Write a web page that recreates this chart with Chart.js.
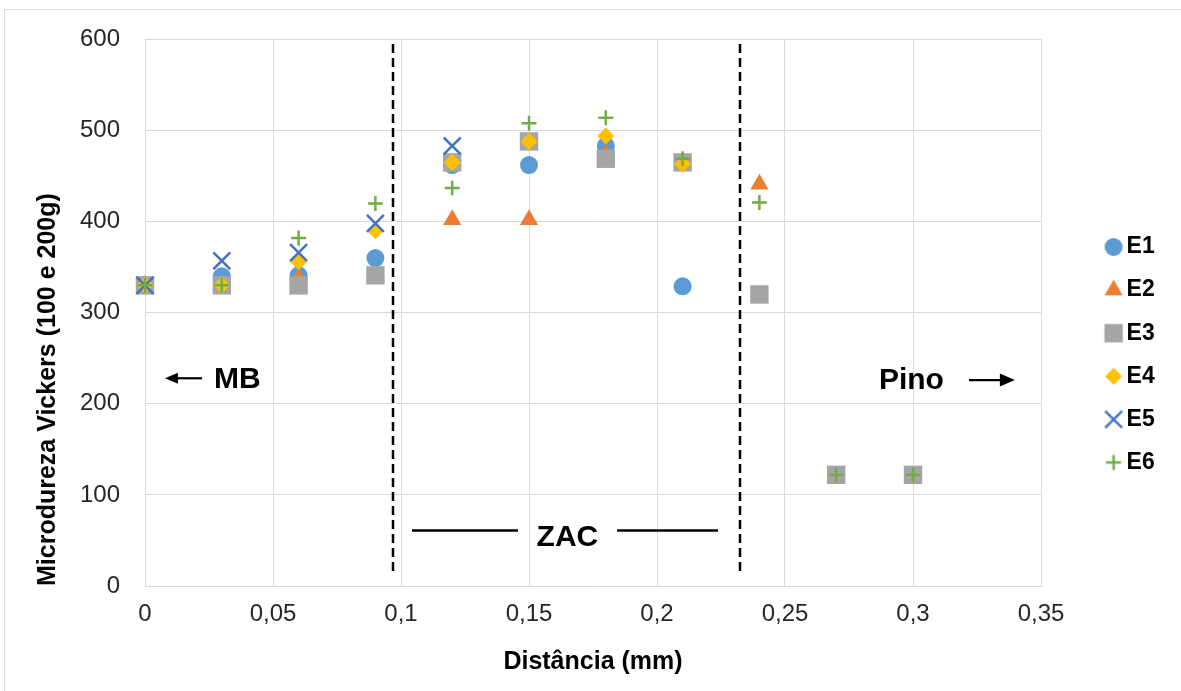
<!DOCTYPE html>
<html>
<head>
<meta charset="utf-8">
<script src="https://cdn.jsdelivr.net/npm/chart.js@4.4.1/dist/chart.umd.min.js"></script>
<style>
html,body{margin:0;padding:0;background:#fff;}
#wrap{position:relative;width:1181px;height:691px;}
canvas{display:block;}
</style>
</head>
<body>
<div id="wrap"><canvas id="c" width="1181" height="691"></canvas></div>
<script>
// ---- data ----
const distances = [0, 0.03, 0.06, 0.09, 0.12, 0.15, 0.18, 0.21, 0.24, 0.27, 0.30];
const E1 = [330, 340, 341, 360, 462, 462, 483, 329, null, null, null];
const E2 = [330, 330, 338, 341, 402, 402, 474, 463, 441, null, null];
const E3 = [330, 330, 330, 341, 465, 488, 469, 465, 320, 122, 122];
const E4 = [330, 330, 356, 390, 465, 488, 494, 463, null, null, null];
const E5 = [330, 357, 366, 398, 483, null, null, null, null, null, null];
const E6 = [330, 330, 382, 420, 437, 508, 514, 469, 421, 122, 122];
const seriesNames = ['E1', 'E2', 'E3', 'E4', 'E5', 'E6'];
const seriesValues = [E1, E2, E3, E4, E5, E6];
const xTickLabels = ['0', '0,05', '0,1', '0,15', '0,2', '0,25', '0,3', '0,35'];
const yTickLabels = ['0', '100', '200', '300', '400', '500', '600'];
const xTitle = 'Distância (mm)';
const yTitle = 'Microdureza Vickers (100 e 200g)';
const zoneBoundaries = [0.097, 0.2325];
const zoneNames = ['MB', 'ZAC', 'Pino'];

// ---- styles ----
const seriesColors = ['#5B9BD5', '#ED7D31', '#A5A5A5', '#FFC000', '#4472C4', '#70AD47'];
const seriesStyles = ['circle', 'triangle', 'rect', 'rectRot', 'crossRot', 'cross'];
const seriesRadius = [9, 10.5, 13, 8.5, 12, 7.5];
const seriesLine = [0, 0, 0, 0, 2.5, 2.5];
const plotFont = "'Liberation Sans', Arial, Helvetica, sans-serif";
Chart.defaults.font.family = plotFont;

const legendLeft = 1092;
const legendTop = 215.4;

const datasets = seriesNames.map((name, i) => ({
  label: name,
  data: distances.map((d, k) => ({ x: d, y: seriesValues[i][k] })),
  pointStyle: seriesStyles[i],
  pointRadius: seriesRadius[i],
  pointHoverRadius: seriesRadius[i],
  backgroundColor: seriesColors[i],
  borderColor: seriesColors[i],
  pointBackgroundColor: seriesColors[i],
  pointBorderColor: seriesColors[i],
  pointBorderWidth: seriesLine[i],
  borderWidth: seriesLine[i],
  showLine: false,
  clip: false,
  order: seriesNames.length - 1 - i
}));

// legend marker images drawn with the library's own point renderer, same size as the plot marks
function legendMarker(i) {
  const size = 30;
  const cv = document.createElement('canvas');
  cv.width = size; cv.height = size;
  const c = cv.getContext('2d');
  c.fillStyle = seriesColors[i];
  c.strokeStyle = seriesColors[i];
  c.lineWidth = seriesLine[i];
  Chart.helpers.drawPoint(c, {
    pointStyle: seriesStyles[i], radius: seriesRadius[i], rotation: 0, borderWidth: seriesLine[i]
  }, size / 2, size / 2);
  return cv;
}
const hasHelpers = !!(Chart.helpers && Chart.helpers.drawPoint);

const framePlugin = {
  id: 'frame',
  beforeDraw(chart) {
    const ctx = chart.ctx;
    ctx.save();
    ctx.fillStyle = '#ffffff';
    ctx.fillRect(0, 0, chart.width, chart.height);
    ctx.strokeStyle = '#d9d9d9';
    ctx.lineWidth = 1;
    ctx.strokeRect(4.5, 9.5, chart.width + 20, chart.height + 20);
    ctx.restore();
  }
};

const legendPlacer = {
  id: 'legendPlacer',
  afterLayout(chart) {
    const lg = chart.legend;
    if (!lg) return;
    lg.left = legendLeft;
    lg.right = chart.width;
    lg.top = legendTop;
    lg.bottom = chart.height;
  }
};

function arrow(ctx, xTail, xTip, y, headLen, headHalf) {
  const dir = Math.sign(xTip - xTail);
  ctx.beginPath();
  ctx.moveTo(xTail, y);
  ctx.lineTo(xTip - dir * headLen * 0.8, y);
  ctx.stroke();
  ctx.beginPath();
  ctx.moveTo(xTip, y);
  ctx.lineTo(xTip - dir * headLen, y - headHalf);
  ctx.lineTo(xTip - dir * headLen, y + headHalf);
  ctx.closePath();
  ctx.fill();
}

const zonePlugin = {
  id: 'zones',
  afterDraw(chart) {
    const { ctx } = chart;
    const xs = chart.scales.x, ys = chart.scales.y;
    ctx.save();
    ctx.strokeStyle = '#000';
    ctx.lineWidth = 2.5;
    ctx.setLineDash([9, 5]);
    zoneBoundaries.forEach(b => {
      const px = Math.round(xs.getPixelForValue(b));
      ctx.beginPath();
      ctx.moveTo(px, ys.getPixelForValue(595));
      ctx.lineTo(px, ys.getPixelForValue(15));
      ctx.stroke();
    });
    ctx.setLineDash([]);
    ctx.fillStyle = '#000';
    ctx.font = 'bold 30px ' + plotFont;
    ctx.textBaseline = 'alphabetic';
    ctx.textAlign = 'left';
    ctx.fillText(zoneNames[0], xs.getPixelForValue(0.0270), ys.getPixelForValue(217.5));
    ctx.lineWidth = 2.2;
    arrow(ctx, xs.getPixelForValue(0.0223), xs.getPixelForValue(0.0078), ys.getPixelForValue(228), 13, 5.5);
    ctx.fillText(zoneNames[2], xs.getPixelForValue(0.2867), ys.getPixelForValue(215.7));
    arrow(ctx, xs.getPixelForValue(0.3219), xs.getPixelForValue(0.3398), ys.getPixelForValue(226), 15, 6.5);
    ctx.textAlign = 'center';
    ctx.fillText(zoneNames[1], xs.getPixelForValue(0.1650), ys.getPixelForValue(44));
    ctx.lineWidth = 2.5;
    const ly = Math.round(ys.getPixelForValue(61.3)) + 0.5;
    ctx.beginPath();
    ctx.moveTo(xs.getPixelForValue(0.1043), ly);
    ctx.lineTo(xs.getPixelForValue(0.1457), ly);
    ctx.moveTo(xs.getPixelForValue(0.1844), ly);
    ctx.lineTo(xs.getPixelForValue(0.2238), ly);
    ctx.stroke();
    ctx.restore();
  }
};

new Chart(document.getElementById('c'), {
  type: 'scatter',
  data: { datasets },
  plugins: [framePlugin, legendPlacer, zonePlugin],
  options: {
    responsive: false,
    animation: false,
    events: [],
    layout: { padding: { left: 0, top: 38, right: 80, bottom: 0 } },
    plugins: {
      tooltip: { enabled: false },
      legend: {
        position: 'right',
        align: 'start',
        maxWidth: 60,
        labels: {
          usePointStyle: true,
          boxWidth: 3,
          boxHeight: 13,
          padding: 20.1,
          color: '#000',
          font: { size: 23, weight: 'bold', family: plotFont },
          sort: (a, b) => a.datasetIndex - b.datasetIndex,
          generateLabels(chart) {
            const items = Chart.defaults.plugins.legend.labels.generateLabels(chart);
            if (hasHelpers) {
              items.forEach(it => { it.pointStyle = legendMarker(it.datasetIndex); });
            }
            return items;
          }
        }
      }
    },
    scales: {
      x: {
        type: 'linear',
        min: 0, max: 0.35,
        afterFit: s => { s.height = 105; },
        ticks: {
          stepSize: 0.05,
          padding: 14,
          color: '#262626',
          font: { size: 24, family: plotFont },
          maxRotation: 0,
          callback: (v, i) => xTickLabels[i]
        },
        grid: { color: '#d9d9d9', lineWidth: 1, drawTicks: false },
        border: { color: '#d9d9d9' },
        title: {
          display: true, text: xTitle, color: '#000',
          font: { size: 25, weight: 'bold', family: plotFont },
          padding: { top: 0, bottom: 14 }
        }
      },
      y: {
        type: 'linear',
        min: 0, max: 600,
        afterFit: s => { s.width = 145; },
        ticks: {
          stepSize: 100,
          padding: 25,
          color: '#262626',
          font: { size: 24, family: plotFont },
          callback: (v, i) => yTickLabels[i]
        },
        grid: { color: '#d9d9d9', lineWidth: 1, drawTicks: false },
        border: { color: '#d9d9d9' },
        title: {
          display: true, text: yTitle, color: '#000', align: 'start',
          font: { size: 25, weight: 'bold', family: plotFont },
          padding: { top: 33, bottom: 0 }
        }
      }
    }
  }
});
</script>
</body>
</html>
